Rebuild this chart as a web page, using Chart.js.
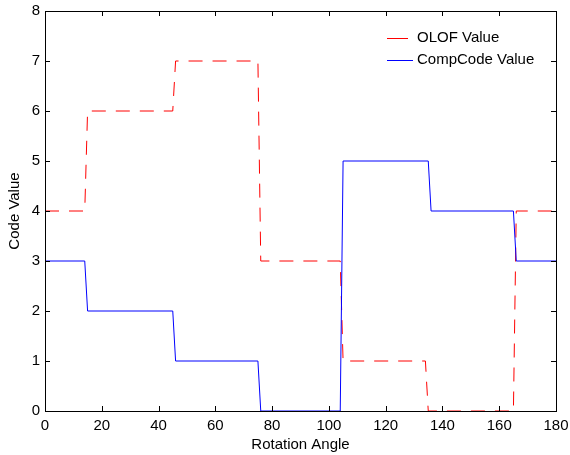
<!DOCTYPE html>
<html>
<head>
<meta charset="utf-8">
<script src="https://cdn.jsdelivr.net/npm/chart.js@4"></script>
<style>
  html, body { margin: 0; padding: 0; background: #fff; }
  #wrap { width: 570px; height: 455px; }
</style>
</head>
<body>
<div id="wrap"><canvas id="chart" width="570" height="455"></canvas></div>
<script>
// step data (value held between break angles)
const olofAngles = [0, 14, 15, 45, 46, 75, 76, 104, 105, 134, 135, 165, 166, 180];
const olofValues = [4, 4, 6, 6, 7, 7, 3, 3, 1, 1, 0, 0, 4, 4];
const compAngles = [0, 14, 15, 45, 46, 75, 76, 104, 105, 135, 136, 165, 166, 180];
const compValues = [3, 3, 2, 2, 1, 1, 0, 0, 5, 5, 4, 4, 3, 3];
const xTicks = [0, 20, 40, 60, 80, 100, 120, 140, 160, 180];
const yTicks = [0, 1, 2, 3, 4, 5, 6, 7, 8];
const seriesNames = ['OLOF Value', 'CompCode Value'];
const seriesColors = ['#ff0000', '#0000ff'];

const FONT = 'Arial, "Liberation Sans", sans-serif';

function toPoints(xs, ys) {
    return xs.map((x, i) => ({ x: x, y: ys[i] }));
}

// frame + inward ticks on all 4 sides, matlab style
const framePlugin = {
    id: 'frame',
    afterDraw(chart) {
        const ctx = chart.ctx;
        const a = chart.chartArea;
        const xs = chart.scales.x, ys = chart.scales.y;
        ctx.save();
        ctx.strokeStyle = '#000';
        ctx.lineWidth = 1;
        ctx.setLineDash([]);
        ctx.beginPath();
        xTicks.forEach(v => {
            const px = Math.round(xs.getPixelForValue(v)) + 0.5;
            ctx.moveTo(px, a.bottom); ctx.lineTo(px, a.bottom - 5);
            ctx.moveTo(px, a.top); ctx.lineTo(px, a.top + 5);
        });
        yTicks.forEach(v => {
            const py = Math.round(ys.getPixelForValue(v)) + 0.5;
            ctx.moveTo(a.left, py); ctx.lineTo(a.left + 5, py);
            ctx.moveTo(a.right, py); ctx.lineTo(a.right - 5, py);
        });
        ctx.stroke();
        ctx.strokeRect(Math.round(a.left) + 0.5, Math.round(a.top) + 0.5,
            Math.round(a.right - a.left), Math.round(a.bottom - a.top));
        ctx.restore();

        // legend inside, top right, no box
        ctx.save();
        ctx.font = '15px ' + FONT;
        ctx.textBaseline = 'middle';
        ctx.textAlign = 'left';
        seriesNames.forEach((name, i) => {
            const y = 38 + i * 22;
            ctx.fillStyle = seriesColors[i];
            ctx.fillRect(387, y, i === 0 ? 21 : 26, 1);
            ctx.fillStyle = '#000';
            ctx.fillText(name, 417, y);
        });
        ctx.restore();
    }
};

new Chart(document.getElementById('chart'), {
    type: 'line',
    data: {
        datasets: [
            {
                label: seriesNames[0],
                data: toPoints(olofAngles, olofValues),
                borderColor: seriesColors[0],
                borderWidth: 1,
                borderDash: [14, 10],
                pointRadius: 0,
                tension: 0,
                order: 2
            },
            {
                label: seriesNames[1],
                data: toPoints(compAngles, compValues),
                borderColor: seriesColors[1],
                borderWidth: 1,
                pointRadius: 0,
                tension: 0,
                order: 1
            }
        ]
    },
    options: {
        responsive: false,
        animation: false,
        devicePixelRatio: 1,
        layout: { padding: { top: 11, right: 14, left: 0, bottom: 0 } },
        plugins: {
            legend: { display: false },
            tooltip: { enabled: false }
        },
        scales: {
            x: {
                type: 'linear',
                min: 0, max: 180,
                afterBuildTicks: s => { s.ticks = xTicks.map(v => ({ value: v })); },
                afterFit: s => { s.height = 44; s.paddingLeft = 0; s.paddingRight = 0; },
                grid: { display: false, drawTicks: false },
                border: { display: false },
                ticks: { color: '#000', font: { family: FONT, size: 15 }, padding: 6, maxRotation: 0 },
                title: { display: true, text: 'Rotation Angle', color: '#000', font: { family: FONT, size: 15 }, padding: { top: 0, bottom: 1 } }
            },
            y: {
                min: 0, max: 8,
                afterBuildTicks: s => { s.ticks = yTicks.map(v => ({ value: v })); },
                afterFit: s => { s.width = 45; s.paddingTop = 0; s.paddingBottom = 0; },
                grid: { display: false, drawTicks: false },
                border: { display: false },
                ticks: { color: '#000', font: { family: FONT, size: 15 }, padding: 5 },
                title: { display: true, text: 'Code Value', color: '#000', font: { family: FONT, size: 15 }, padding: { top: 6, bottom: 0 } }
            }
        }
    },
    plugins: [framePlugin]
});
</script>
</body>
</html>
